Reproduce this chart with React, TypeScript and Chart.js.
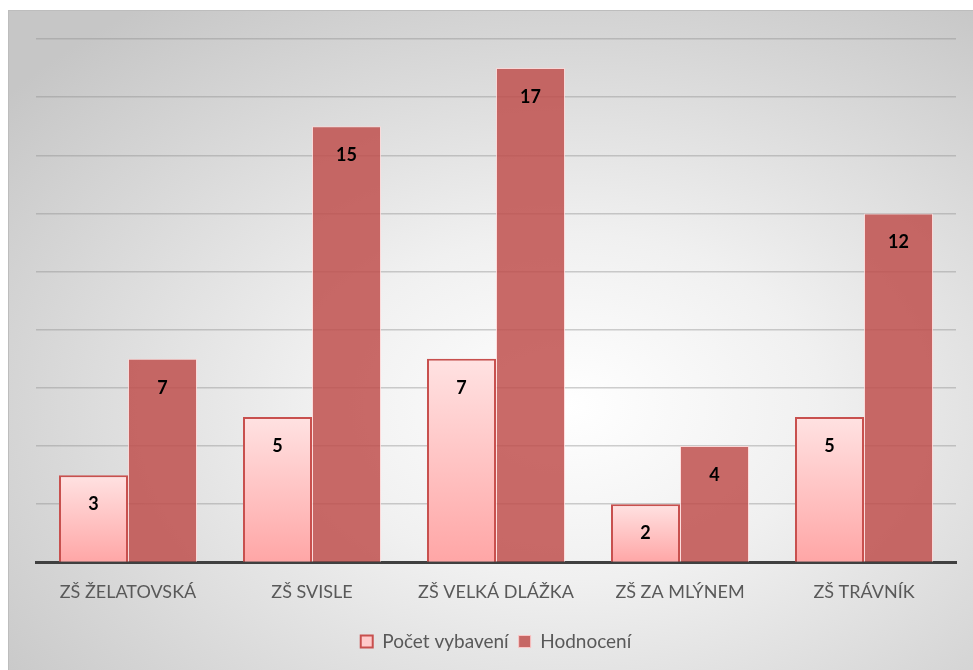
import React, { useEffect, useRef } from "react";
import { Chart, registerables } from "chart.js";

Chart.register(...registerables);

const categories = ["ZŠ ŽELATOVSKÁ", "ZŠ SVISLE", "ZŠ VELKÁ DLÁŽKA", "ZŠ ZA MLÝNEM", "ZŠ TRÁVNÍK"];
const seriesNames = ["Počet vybavení", "Hodnocení"];
const pocetVybaveni = [3, 5, 7, 2, 5];
const hodnoceni = [7, 15, 17, 4, 12];
const yMax = 18;
const yStep = 2;

const FONT = "Lato, 'Open Sans', sans-serif";

const labelPlugin = {
  id: "barValueLabels",
  afterDatasetsDraw(chart: any) {
    const ctx = chart.ctx;
    ctx.save();
    ctx.font = "bold 18px " + FONT;
    ctx.fillStyle = "#000000";
    ctx.textAlign = "center";
    ctx.textBaseline = "middle";
    chart.data.datasets.forEach((ds: any, di: number) => {
      const meta = chart.getDatasetMeta(di);
      meta.data.forEach((bar: any, i: number) => {
        ctx.fillText(String(ds.data[i]), bar.x, bar.y + 29);
      });
    });
    ctx.restore();
  },
};

export default function App() {
  const ref = useRef<HTMLCanvasElement | null>(null);
  useEffect(() => {
    if (!ref.current) return;
    const pinkFill = (c: any) => {
      const chart = c.chart;
      const y = chart.scales && chart.scales.y;
      if (!chart.chartArea || !y || c.type !== "data") return "#ffc8c8";
      const top = y.getPixelForValue(c.raw);
      const bottom = y.getPixelForValue(0);
      const g = chart.ctx.createLinearGradient(0, top, 0, bottom);
      g.addColorStop(0, "#ffe2e2");
      g.addColorStop(1, "#ffa6a6");
      return g;
    };
    const chart = new Chart(ref.current, {
      type: "bar",
      data: {
        labels: categories,
        datasets: [
          {
            label: seriesNames[0],
            data: pocetVybaveni,
            backgroundColor: pinkFill,
            borderColor: "#c8504e",
            borderWidth: 2,
            categoryPercentage: 0.75,
            barPercentage: 1.0,
          },
          {
            label: seriesNames[1],
            data: hodnoceni,
            backgroundColor: "rgba(192,80,77,0.85)",
            borderColor: "rgba(255,215,215,0.8)",
            borderWidth: 1,
            categoryPercentage: 0.75,
            barPercentage: 1.0,
          },
        ],
      },
      options: {
        animation: false,
        responsive: true,
        maintainAspectRatio: false,
        layout: { padding: { left: 28, top: 29, right: 17, bottom: 0 } },
        scales: {
          x: {
            grid: { display: false, drawTicks: false },
            border: { display: true, color: "#404040", width: 3 },
            ticks: {
              color: "#595959",
              font: { family: FONT, size: 18 },
              padding: 19,
            },
          },
          y: {
            min: 0,
            max: yMax,
            ticks: { display: false, stepSize: yStep },
            grid: { color: "rgba(140,140,140,0.42)", lineWidth: 1.5, drawTicks: false },
            border: { display: false },
          },
        },
        plugins: {
          legend: {
            position: "bottom",
            labels: {
              color: "#595959",
              font: { family: FONT, size: 19 },
              boxWidth: 12,
              boxHeight: 12,
              padding: 10,
              generateLabels: () => [
                { text: seriesNames[0], fillStyle: "#ffcaca", strokeStyle: "#c8504e", lineWidth: 2, datasetIndex: 0, fontColor: "#595959" },
                { text: seriesNames[1], fillStyle: "rgba(192,80,77,0.85)", strokeStyle: "rgba(255,200,200,0.9)", lineWidth: 1, datasetIndex: 1, fontColor: "#595959" },
              ],
            },
          },
          tooltip: { enabled: false },
        },
      },
      plugins: [labelPlugin],
    });
    return () => chart.destroy();
  }, []);
  return (
    <div
      style={{
        position: "fixed",
        left: 8,
        top: 10,
        width: 965,
        height: 660,
        boxSizing: "border-box",
        borderTop: "1px solid #bdbdbd",
        borderLeft: "1px solid #bdbdbd",
        background: "radial-gradient(ellipse 75% 75% at 58% 60%, #ffffff 0%, #f0f0f0 35%, #d6d6d6 75%, #c6c6c6 100%)",
      }}
    >
      <div style={{ position: "absolute", left: -1, top: -1, width: 965, height: 651 }}>
        <canvas ref={ref} />
      </div>
    </div>
  );
}
